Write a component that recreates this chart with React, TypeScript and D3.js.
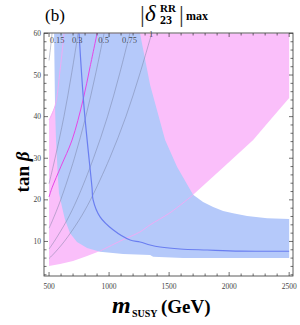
import React from 'react';
import { scaleLinear, line, curveCatmullRom, curveLinearClosed, range } from 'd3';

const width = 300;
const height = 325;
const frame = { left: 44, right: 293, top: 33, bottom: 276 };

// axes
const xMajor = [500, 1000, 1500, 2000, 2500];
const yMajor = [10, 20, 30, 40, 50, 60];
const xMinor = range(500, 2501, 100);
const yMinor = range(2, 61, 2);

// regions, [mSUSY, tanβ]
const pinkRegion: [number, number][] = [
  [625, 60], [2500, 60], [2500, 44.5], [2342, 39.2], [2200, 34.4], [1950, 27.8],
  [1700, 21.2], [1508, 16.9], [1342, 14.0], [1258, 12.3], [1100, 10.2], [925, 7.7],
  [817, 6.5], [700, 5.3], [592, 4.6], [500, 4.1], [500, 39.2], [550, 42.6], [592, 51.2],
];
const blueRegion: [number, number][] = [
  [542, 60], [550, 42.1], [558, 34.4], [575, 24.8], [583, 21.6], [608, 18.3],
  [633, 15.2], [675, 12.0], [733, 9.9], [817, 8.4], [925, 7.5], [1117, 7.0],
  [1342, 6.75], [1367, 6.3], [1617, 6.0], [2500, 6.0], [2500, 15.4], [2317, 15.6],
  [2150, 16.1], [2033, 16.8], [1950, 17.3], [1867, 18.3], [1783, 19.5], [1700, 21.2],
  [1567, 27.9], [1467, 34.4], [1342, 47.6], [1258, 60],
];
const pinkEdgeLower: [number, number][] = [
  [925, 7.7], [1100, 10.2], [1258, 12.3], [1342, 14.0], [1508, 16.9], [1700, 21.2],
];
const pinkEdgeUpper: [number, number][] = [
  [625, 60], [592, 51.2], [550, 42.6], [500, 39.2],
];

// contours of |δ23RR|max
const contourLabels = ['0.15', '0.3', '0.5', '0.75', '1'];
const contourLabelM = [567, 735, 955, 1170, 1350];
const contourLabelT = [58.3, 58.3, 58.3, 58.3, 59.8];
const contours: [number, number][][] = [
  [[500, 53.5], [514, 57], [525, 60]],
  [[500, 23.9], [550, 30], [624, 40], [686, 50], [742, 60]],
  [[500, 13.2], [528, 15], [597, 20], [711, 30], [806, 40], [886, 50], [958, 60]],
  [[500, 8.2], [543, 10], [647, 15], [732, 20], [870, 30], [987, 40], [1085, 50], [1173, 60]],
  [[500, 5.9], [538, 7], [627, 10], [747, 15], [845, 20], [1005, 30], [1140, 40], [1253, 50], [1355, 60]],
];

const magentaCurve: [number, number][] = [
  [900, 60], [842, 52], [783, 44], [692, 34.4], [600, 28.1], [525, 22.9], [500, 20.7],
];
const blueCurve: [number, number][] = [
  [750, 60], [792, 42.1], [858, 22.9], [867, 20], [925, 15.9], [1033, 12.8],
  [1175, 10.35], [1258, 9.87], [1342, 9.15], [1425, 8.67], [1592, 8.19],
  [1817, 7.95], [2092, 7.7], [2500, 7.65],
];

const x = scaleLinear().domain([458, 2532]).range([frame.left, frame.right]);
const y = scaleLinear().domain([1.7, 60.1]).range([frame.bottom, frame.top]);

const poly = line<[number, number]>().x((d) => x(d[0])).y((d) => y(d[1])).curve(curveLinearClosed);
const smooth = line<[number, number]>().x((d) => x(d[0])).y((d) => y(d[1])).curve(curveCatmullRom);

const serif = 'Liberation Serif, DejaVu Serif, serif';

const App = () => {
  return (
    <svg width={width} height={height} style={{ position: 'absolute', left: 0, top: 0 }} fontFamily={serif}>
      <defs>
        <clipPath id="plot">
          <rect x={frame.left} y={frame.top} width={frame.right - frame.left} height={frame.bottom - frame.top} />
        </clipPath>
      </defs>
      <g clipPath="url(#plot)">
        <path d={poly(pinkRegion) as string} fill="#fabffa" />
        <path d={poly(blueRegion) as string} fill="#b5c9fa" />
        <path d={smooth(pinkEdgeLower) as string} fill="none" stroke="#f4a8f4" strokeWidth={0.9} />
        <path d={smooth(pinkEdgeUpper) as string} fill="none" stroke="#f4a8f4" strokeWidth={0.9} />
        {contours.map((c, i) => (
          <path key={i} d={smooth(c) as string} fill="none" stroke="#6f7898" strokeOpacity={0.55} strokeWidth={0.8} />
        ))}
        <path d={smooth(magentaCurve) as string} fill="none" stroke="#e646e6" strokeWidth={1} />
        <path d={smooth(blueCurve) as string} fill="none" stroke="#6a7ef0" strokeWidth={1.2} />
      </g>
      {contourLabels.map((l, i) => (
        <text key={l} x={x(contourLabelM[i])} y={y(contourLabelT[i]) + 3} fontSize={8.5} textAnchor="middle" fill="#333" fillOpacity={0.85}>
          {l}
        </text>
      ))}

      {/* frame and ticks */}
      <rect x={frame.left} y={frame.top} width={frame.right - frame.left} height={frame.bottom - frame.top} fill="none" stroke="#333" strokeWidth={0.8} />
      {xMinor.map((v) => {
        const major = xMajor.includes(v);
        const len = major ? 4 : 2.5;
        return (
          <g key={'x' + v} stroke="#333" strokeWidth={0.7}>
            <line x1={x(v)} x2={x(v)} y1={frame.bottom} y2={frame.bottom - len} />
            <line x1={x(v)} x2={x(v)} y1={frame.top} y2={frame.top + len} />
          </g>
        );
      })}
      {yMinor.map((v) => {
        const major = yMajor.includes(v);
        const len = major ? 4 : 2.5;
        return (
          <g key={'y' + v} stroke="#333" strokeWidth={0.7}>
            <line x1={frame.left} x2={frame.left + len} y1={y(v)} y2={y(v)} />
            <line x1={frame.right} x2={frame.right - len} y1={y(v)} y2={y(v)} />
          </g>
        );
      })}
      {xMajor.map((v) => (
        <text key={'xl' + v} x={x(v)} y={frame.bottom + 13} fontSize={7.5} textAnchor="middle" fill="#444">
          {v}
        </text>
      ))}
      {yMajor.map((v) => (
        <text key={'yl' + v} x={frame.left - 3} y={y(v) + 2.5} fontSize={7.5} textAnchor="end" fill="#444">
          {v}
        </text>
      ))}

      {/* title */}
      <text x={45} y={21} fontSize={17}>(b)</text>
      <text x={140} y={22} fontSize={24} fill="#333">|</text>
      <text x={145} y={21} fontSize={23} fontStyle="italic">δ</text>
      <text x={160} y={12} fontSize={11} fontWeight="bold">RR</text>
      <text x={160} y={23.5} fontSize={12} fontWeight="bold">23</text>
      <text x={179} y={22} fontSize={24} fill="#333">|</text>
      <text x={186} y={20} fontSize={12} fontWeight="bold">max</text>

      {/* axis labels */}
      <text x={112} y={313} fontSize={24} fontWeight="bold" fontStyle="italic">m</text>
      <text x={132} y={317} fontSize={10} fontWeight="bold">SUSY</text>
      <text x={161} y={313} fontSize={19} fontWeight="bold">(GeV)</text>
      <text transform="translate(29,172) rotate(-90)" fontSize={19} fontWeight="bold" textAnchor="middle">
        tan <tspan fontStyle="italic">β</tspan>
      </text>
    </svg>
  );
};

export default App;
